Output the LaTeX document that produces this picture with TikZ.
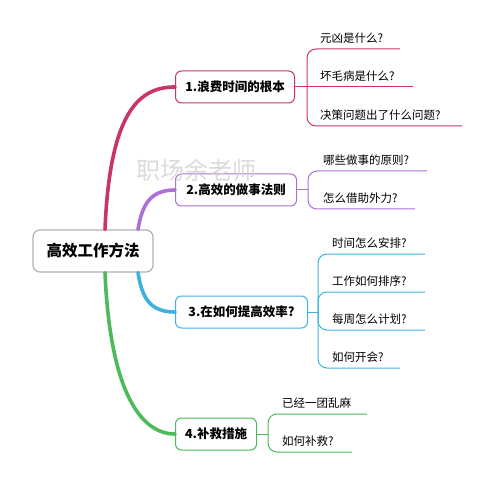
\documentclass[tikz,border=0pt]{standalone}
\usepackage{fontspec}
\setmainfont{Noto Sans CJK SC}
\usetikzlibrary{positioning}
\definecolor{cone}{HTML}{C9356A}
\definecolor{ctwo}{HTML}{AE6FD6}
\definecolor{cthree}{HTML}{3DB2DF}
\definecolor{cfour}{HTML}{4DBB5C}
\tikzset{
  topic/.style={draw, rounded corners=6pt, line width=1pt, fill=white, anchor=west,
    minimum height=32pt, inner xsep=6pt, font=\bfseries\fontsize{12.5}{14}\selectfont},
  leaf/.style={anchor=south west, inner sep=1pt, font=\fontsize{11.5}{13}\selectfont},
  trunk/.style={line width=3.6pt, line cap=round},
  twig/.style={line width=1pt, rounded corners=9pt},
}
\begin{document}
\begin{tikzpicture}[x=1pt,y=-1pt]
  \useasboundingbox[fill=white] (0,0) rectangle (494,502);
  % main topic
  \node[draw=gray!60, line width=1.2pt, rounded corners=7pt, fill=white,
    minimum width=120pt, minimum height=42pt, font=\bfseries\fontsize{15.5}{17}\selectfont]
    (root) at (93,251) {高效工作方法};
  % branches
  \node[topic, draw=cone, minimum width=119pt] (b1) at (175,87) {1.浪费时间的根本};
  \node[topic, draw=ctwo, minimum width=121pt] (b2) at (175,190) {2.高效的做事法则};
  \node[topic, draw=cthree, minimum width=132pt] (b3) at (175,312) {3.在如何提高效率?};
  \node[topic, draw=cfour, minimum width=81pt] (b4) at (175,434) {4.补救措施};
  \draw[trunk, cone] ([xshift=12pt]root.north) .. controls (110,110) and (140,87) .. (b1.west);
  \draw[trunk, ctwo] ([xshift=45pt]root.north) .. controls (142,205) and (150,190) .. (b2.west);
  \draw[trunk, cthree] ([xshift=45pt]root.south) .. controls (142,298) and (150,312) .. (b3.west);
  \draw[trunk, cfour] ([xshift=12pt]root.south) .. controls (110,390) and (140,434) .. (b4.west);

  % 1
  \coordinate (k1) at (307,87);
  \draw[line width=1pt, cone] (b1.east) -- (k1);
  \coordinate (e11) at (400,49);
  \coordinate (e12) at (413,87);
  \coordinate (e13) at (462,126);
  \draw[twig, cone] (k1) |- (e11);
  \draw[twig, cone] (k1) -- (e12);
  \draw[twig, cone] (k1) |- (e13);
  \node[leaf] (l11) at (319,45) {元凶是什么?};
  \node[leaf] (l12) at (319,83) {坏毛病是什么?};
  \node[leaf] (l13) at (319,122) {决策问题出了什么问题?};

  % 2
  \coordinate (k2) at (308,190);
  \draw[line width=1pt, ctwo] (b2.east) -- (k2);
  \coordinate (e21) at (427,171);
  \coordinate (e22) at (415,209);
  \draw[twig, ctwo] (k2) |- (e21);
  \draw[twig, ctwo] (k2) |- (e22);
  \node[leaf] (l21) at (322,167) {哪些做事的原则?};
  \node[leaf] (l22) at (322,205) {怎么借助外力?};

  % 3
  \coordinate (k3) at (318,312);
  \draw[line width=1pt, cthree] (b3.east) -- (k3);
  \coordinate (e31) at (425,254);
  \coordinate (e32) at (425,292);
  \coordinate (e33) at (425,330);
  \coordinate (e34) at (400,368);
  \draw[twig, cthree] (k3) |- (e31);
  \draw[twig, cthree] (k3) |- (e32);
  \draw[twig, cthree] (k3) |- (e33);
  \draw[twig, cthree] (k3) |- (e34);
  \node[leaf] (l31) at (331,250) {时间怎么安排?};
  \node[leaf] (l32) at (331,288) {工作如何排序?};
  \node[leaf] (l33) at (331,326) {每周怎么计划?};
  \node[leaf] (l34) at (331,364) {如何开会?};

  % 4
  \coordinate (k4) at (268,434);
  \draw[line width=1pt, cfour] (b4.east) -- (k4);
  \coordinate (e41) at (367,414);
  \coordinate (e42) at (352,452);
  \draw[twig, cfour] (k4) |- (e41);
  \draw[twig, cfour] (k4) |- (e42);
  \node[leaf] (l41) at (281,410) {已经一团乱麻};
  \node[leaf] (l42) at (281,448) {如何补救?};

  % watermark
  \node[text=gray!35, font=\fontsize{24}{26}\selectfont, opacity=0.8, inner sep=0pt] (wm) at (196,170) {职场余老师};
\end{tikzpicture}
\end{document}
